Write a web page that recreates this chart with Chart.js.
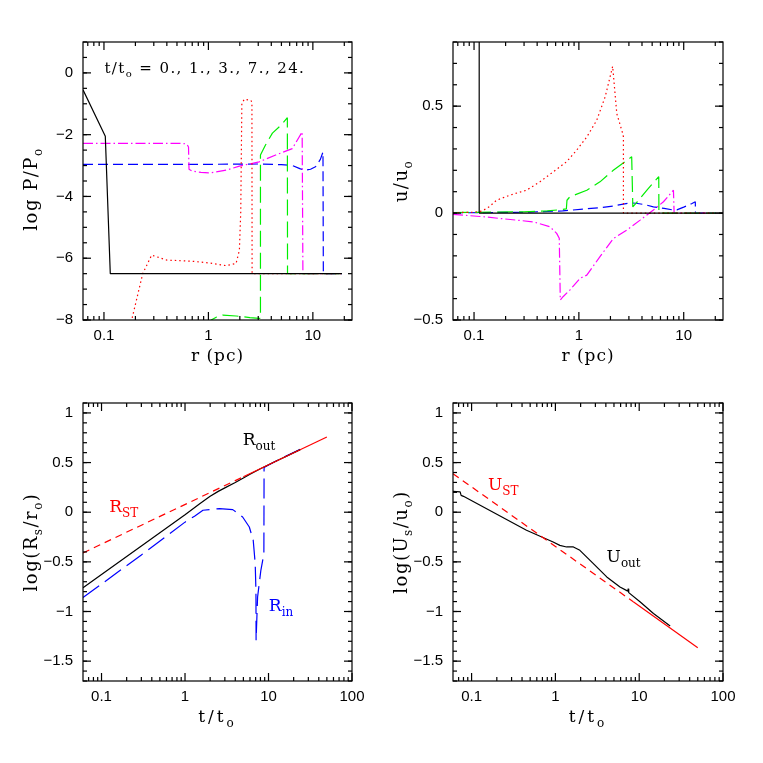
<!DOCTYPE html>
<html>
<head>
<meta charset="utf-8">
<title>Remnant profiles</title>
<script src="https://cdn.jsdelivr.net/npm/chart.js@4.4.1/dist/chart.umd.min.js"></script>
<style>
  html, body { margin: 0; padding: 0; background: #fff; }
  body { position: relative; width: 763px; height: 763px; overflow: hidden; }
  canvas { position: absolute; }
</style>
</head>
<body>
<canvas id="pres"></canvas>
<canvas id="vel"></canvas>
<canvas id="radius"></canvas>
<canvas id="speed"></canvas>
<script>
// top left: log P/Po against r (pc), t/to = 0, 1, 3, 7, 24
const presR0  = [0.063, 0.103, 0.115, 19];
const presP0  = [-0.55, -2.05, -6.5, -6.5];
const presR1  = [0.170, 0.235, 0.286, 0.40, 0.71, 1.0, 1.48, 1.84, 1.98, 2.04, 2.09, 2.21, 2.55, 2.61, 2.62, 19];
const presP1  = [-8.5, -6.5, -5.9, -6.06, -6.1, -6.15, -6.24, -6.17, -5.74, -4.5, -0.99, -0.85, -0.89, -0.95, -6.5, -6.5];
const presR3  = [1.0, 1.064, 1.2, 1.374, 1.84, 2.5, 3.06, 3.15, 3.15, 3.5, 4.1, 5.0, 5.7, 5.72, 19];
const presP3  = [-8.3, -8.0, -7.9, -7.84, -7.87, -7.92, -7.95, -7.95, -2.66, -2.35, -1.95, -1.68, -1.45, -6.5, -6.5];
const presR7  = [0.063, 0.55, 0.62, 0.645, 0.652, 0.7, 0.85, 1.03, 1.48, 1.98, 3.06, 4.41, 6.36, 7.9, 8.03, 19];
const presP7  = [-2.28, -2.28, -2.30, -2.4, -3.12, -3.18, -3.22, -3.24, -3.15, -3.02, -2.88, -2.66, -2.45, -1.91, -6.5, -6.5];
const presR24 = [0.063, 1, 3, 5, 6.4, 7.5, 8.5, 9.5, 10.6, 11.8, 12.5, 12.6, 19];
const presP24 = [-2.96, -2.96, -2.95, -2.97, -3.0, -3.1, -3.15, -3.12, -3.04, -2.8, -2.56, -6.5, -6.5];

// top right: u/uo against r (pc)
const velR0  = [0.112, 0.112, 23.7];
const velU0  = [1.5, 0, 0];
const velR1  = [0.063, 0.1, 0.12, 0.14, 0.164, 0.22, 0.317, 0.425, 0.57, 0.764, 0.952, 1.19, 1.48, 1.78, 2.10, 2.30, 2.62, 2.66, 2.66, 20];
const velU1  = [0.002, 0.004, 0.01, 0.03, 0.06, 0.084, 0.107, 0.146, 0.193, 0.24, 0.294, 0.356, 0.434, 0.543, 0.686, 0.465, 0.372, 0.356, 0, 0];
const velR3  = [0.063, 0.3, 0.5, 0.7, 0.76, 0.77, 0.82, 1.19, 1.59, 2.13, 3.19, 3.27, 3.5, 4.5, 5.78, 5.8, 20];
const velU3  = [0.002, 0.006, 0.01, 0.017, 0.02, 0.06, 0.076, 0.107, 0.146, 0.2, 0.263, 0.029, 0.045, 0.11, 0.17, 0, 0];
const velR7  = [0.063, 0.122, 0.254, 0.367, 0.53, 0.614, 0.65, 0.665, 0.71, 0.82, 1.03, 1.19, 1.59, 2.13, 2.86, 3.84, 5.14, 6.41, 7.98, 8.1, 20];
const velU7  = [-0.006, -0.017, -0.033, -0.041, -0.064, -0.095, -0.118, -0.407, -0.39, -0.36, -0.305, -0.29, -0.204, -0.119, -0.08, -0.033, 0.014, 0.053, 0.107, 0, 0];
const velR24 = [0.063, 0.3, 0.7, 1.19, 1.6, 2.13, 3.08, 3.5, 4.2, 5.14, 6.5, 7.98, 8.6, 10, 12, 12.9, 12.95, 20];
const velU24 = [0.001, 0.004, 0.01, 0.02, 0.025, 0.033, 0.048, 0.046, 0.04, 0.029, 0.022, 0.014, 0.015, 0.028, 0.045, 0.053, 0, 0];

// bottom left: log(Rs/ro) against t/to
const rstT    = [0.06, 5, 50];
const rstLog  = [-0.41, 0.357, 0.757];
const routT   = [0.06, 0.3, 1, 1.5, 2, 2.5, 3, 4, 5, 6, 8, 10, 24];
const routLog = [-0.76, -0.34, -0.025, 0.085, 0.16, 0.21, 0.245, 0.3, 0.345, 0.382, 0.438, 0.478, 0.63];
const rinT    = [0.06, 0.3, 1, 1.3, 1.64, 2.59, 3.73, 4.9, 5.89, 6.56, 6.93, 7.07, 7.1, 7.4, 8.1, 8.8, 8.85, 12, 24];
const rinLog  = [-0.86, -0.43, -0.10, -0.04, 0.02, 0.036, 0.026, -0.048, -0.149, -0.283, -0.518, -0.787, -1.29, -0.854, -0.585, -0.42, 0.45, 0.51, 0.635];

// bottom right: log(Us/uo) against t/to
const ustT    = [0.06, 8.5, 50];
const ustLog  = [0.388, -0.902, -1.364];
const uoutT   = [0.06, 0.073, 0.075, 0.08, 0.452, 0.94, 1.13, 1.36, 1.64, 1.96, 2.84, 4.1, 5.9, 7.3, 7.4, 7.5, 10.3, 14.8, 23.4];
const uoutLog = [0.21, 0.205, 0.17, 0.16, -0.182, -0.30, -0.334, -0.35, -0.35, -0.384, -0.518, -0.652, -0.753, -0.795, -0.77, -0.81, -0.904, -1.02, -1.146];

// tick labels
const rLabels   = [0.1, 1, 10];
const tLabels   = [0.1, 1, 10, 100];
const presTicks = [0, -2, -4, -6, -8];
const velTicks  = [0.5, 0, -0.5];
const logTicks  = [1, 0.5, 0, -0.5, -1, -1.5];

const RED = '#ff0000', GREEN = '#00ee00', BLUE = '#0000ff', MAGENTA = '#ff00ff', BLACK = '#000000';

Chart.defaults.font.family = '"Liberation Sans", Arial, sans-serif';
Chart.defaults.font.size = 15;
Chart.defaults.color = '#000';

function line(xs, ys, color, dash) {
    return {
        data: xs.map((x, i) => ({ x: x, y: ys[i] })),
        borderColor: color,
        borderWidth: 1.2,
        borderDash: dash || [],
        borderJoinStyle: 'bevel',
        pointRadius: 0,
        fill: false,
        tension: 0
    };
}

// minor ticks for log axes: 2..9 of every decade inside the range
function logMinor(lo, hi) {
    const out = [];
    for (let e = -2; e <= 2; e++) {
        for (let m = 2; m <= 9; m++) {
            const v = m * Math.pow(10, e);
            if (v > lo && v < hi) out.push(v);
        }
    }
    return out;
}
function steps(lo, hi, d) {
    const out = [];
    for (let v = lo; v <= hi + 1e-9; v += d) out.push(Math.round(v * 1000) / 1000);
    return out;
}

function rich(ctx, parts, x, y, size, sp, align) {
    const fontFor = sub => (sub ? Math.round(size * 0.68) : size) + 'px "DejaVu Serif", serif';
    ctx.letterSpacing = sp + 'px';
    let total = 0;
    const widths = parts.map(([t, sub]) => {
        ctx.font = fontFor(sub);
        const w = ctx.measureText(t).width;
        total += w;
        return w;
    });
    let cx = align === 'center' ? x - total / 2 : x;
    ctx.textAlign = 'left';
    ctx.textBaseline = 'alphabetic';
    parts.forEach(([t, sub], i) => {
        ctx.font = fontFor(sub);
        ctx.fillText(t, cx, y + (sub ? size * 0.3 : 0));
        cx += widths[i];
    });
    ctx.letterSpacing = '0px';
}

// frame with inward ticks on all four sides, axis titles, text notes
function decor(p) {
    return {
        id: 'decor_' + p.id,
        afterDraw(chart) {
            const ctx = chart.ctx, a = chart.chartArea;
            const sx = chart.scales.x, sy = chart.scales.y;
            const lw = 1.2;
            ctx.save();
            ctx.setLineDash([]);
            ctx.fillStyle = '#000';
            const xt = (v, len) => {
                const px = sx.getPixelForValue(v);
                ctx.fillRect(px - lw / 2, a.bottom - len, lw, len);
                ctx.fillRect(px - lw / 2, a.top, lw, len);
            };
            const yt = (v, len) => {
                const py = sy.getPixelForValue(v);
                ctx.fillRect(a.left, py - lw / 2, len, lw);
                ctx.fillRect(a.right - len, py - lw / 2, len, lw);
            };
            p.xMinor.forEach(v => xt(v, 4));
            p.xMajor.forEach(v => xt(v, 8));
            p.yMinor.forEach(v => yt(v, 4));
            p.yMajor.forEach(v => yt(v, 8));
            ctx.strokeStyle = '#000';
            ctx.lineWidth = lw;
            ctx.strokeRect(a.left, a.top, a.right - a.left, a.bottom - a.top);

            rich(ctx, p.xTitle, (a.left + a.right) / 2, a.bottom + 41, 17, p.xTitleSp, 'center');
            ctx.save();
            ctx.translate(a.left - 46, (a.top + a.bottom) / 2 + (p.yTitleShift || 0));
            ctx.rotate(-Math.PI / 2);
            rich(ctx, p.yTitle, 0, 0, 18, 1.5, 'center');
            ctx.restore();

            (p.notes || []).forEach(n => {
                ctx.fillStyle = n.color;
                rich(ctx, n.parts, sx.getPixelForValue(n.x), sy.getPixelForValue(n.y), n.size, n.sp, 'left');
            });
            ctx.restore();
        }
    };
}

const PAD_L = 80, PAD_T = 10, PAD_R = 22, PAD_B = 62;
const fmtY = v => (v < 0 ? '\u2212' : '') + Math.abs(v);

function makePanel(p) {
    const cv = document.getElementById(p.id);
    const [fl, ft, fw, fh] = p.frame;
    const W = fw + PAD_L + PAD_R, H = fh + PAD_T + PAD_B;
    cv.width = W; cv.height = H;
    cv.style.left = (fl - PAD_L) + 'px';
    cv.style.top = (ft - PAD_T) + 'px';
    cv.style.width = W + 'px';
    cv.style.height = H + 'px';

    new Chart(cv, {
        type: 'line',
        data: { datasets: p.datasets },
        options: {
            responsive: false,
            animation: false,
            devicePixelRatio: 1,
            layout: { padding: { left: 0, top: PAD_T, right: PAD_R, bottom: 0 } },
            plugins: { legend: { display: false }, tooltip: { enabled: false } },
            scales: {
                x: {
                    type: 'logarithmic',
                    min: p.xMin, max: p.xMax,
                    grid: { display: false, drawTicks: false },
                    border: { display: false },
                    afterBuildTicks: s => { s.ticks = p.xLabels.map(v => ({ value: v })); },
                    afterFit: s => { s.height = PAD_B; s.paddingLeft = 0; s.paddingRight = 0; },
                    ticks: { padding: 7, maxRotation: 0, autoSkip: false, callback: v => String(v) }
                },
                y: {
                    type: 'linear',
                    min: p.yMin, max: p.yMax,
                    grid: { display: false, drawTicks: false },
                    border: { display: false },
                    afterBuildTicks: s => { s.ticks = p.yLabels.map(v => ({ value: v })); },
                    afterFit: s => { s.width = PAD_L; s.paddingTop = 0; s.paddingBottom = 0; },
                    ticks: { padding: 10, autoSkip: false, callback: v => fmtY(v) }
                }
            }
        },
        plugins: [decor(p)]
    });
}

const rMinor = logMinor(0.063, 23.7);
const tMinor = logMinor(0.06, 100);

makePanel({
    id: 'pres', frame: [83, 42, 269, 278],
    xMin: 0.063, xMax: 23.7, yMin: -8, yMax: 1,
    xLabels: rLabels, yLabels: presTicks,
    xMajor: rLabels, xMinor: rMinor, yMajor: presTicks, yMinor: steps(-8, 1, 0.5),
    xTitle: [['r (pc)', 0]], xTitleSp: 1,
    yTitle: [['log P/P', 0], ['o', 1]], yTitleShift: 8,
    notes: [{ parts: [['t/t', 0], ['o', 1], [' = 0., 1., 3., 7., 24.', 0]], x: 0.101, y: 0, size: 15, sp: 1.4, color: BLACK }],
    datasets: [
        line(presR0, presP0, BLACK),
        line(presR1, presP1, RED, [1.5, 3]),
        line(presR3, presP3, GREEN, [16, 6]),
        line(presR7, presP7, MAGENTA, [10, 3, 1.5, 3]),
        line(presR24, presP24, BLUE, [10, 5])
    ]
});

makePanel({
    id: 'vel', frame: [453, 42, 270, 278],
    xMin: 0.063, xMax: 23.7, yMin: -0.5, yMax: 0.8,
    xLabels: rLabels, yLabels: velTicks,
    xMajor: rLabels, xMinor: rMinor, yMajor: velTicks, yMinor: steps(-0.5, 0.8, 0.1),
    xTitle: [['r (pc)', 0]], xTitleSp: 1,
    yTitle: [['u/u', 0], ['o', 1]],
    datasets: [
        line(velR0, velU0, BLACK),
        line(velR1, velU1, RED, [1.5, 3]),
        line(velR3, velU3, GREEN, [16, 6]),
        line(velR7, velU7, MAGENTA, [10, 3, 1.5, 3]),
        line(velR24, velU24, BLUE, [10, 5])
    ]
});

makePanel({
    id: 'radius', frame: [83, 403, 269, 278],
    xMin: 0.06, xMax: 100, yMin: -1.7, yMax: 1.1,
    xLabels: tLabels, yLabels: logTicks,
    xMajor: tLabels, xMinor: tMinor, yMajor: logTicks, yMinor: steps(-1.7, 1.1, 0.1),
    xTitle: [['t/t', 0], ['o', 1]], xTitleSp: 3,
    yTitle: [['log(R', 0], ['s', 1], ['/r', 0], ['o', 1], [')', 0]],
    notes: [
        { parts: [['R', 0], ['out', 1]], x: 4.9, y: 0.68, size: 17, sp: 0, color: BLACK },
        { parts: [['R', 0], ['ST', 1]], x: 0.124, y: 0.007, size: 17, sp: 0, color: RED },
        { parts: [['R', 0], ['in', 1]], x: 10.1, y: -0.99, size: 17, sp: 0, color: BLUE }
    ],
    datasets: [
        line(rstT.slice(0, 2), rstLog.slice(0, 2), RED, [7, 5]),
        line(rstT.slice(1), rstLog.slice(1), RED),
        line(routT, routLog, BLACK),
        line(rinT, rinLog, BLUE, [20, 7])
    ]
});

makePanel({
    id: 'speed', frame: [453, 403, 270, 278],
    xMin: 0.06, xMax: 100, yMin: -1.7, yMax: 1.1,
    xLabels: tLabels, yLabels: logTicks,
    xMajor: tLabels, xMinor: tMinor, yMajor: logTicks, yMinor: steps(-1.7, 1.1, 0.1),
    xTitle: [['t/t', 0], ['o', 1]], xTitleSp: 3,
    yTitle: [['log(U', 0], ['s', 1], ['/u', 0], ['o', 1], [')', 0]],
    notes: [
        { parts: [['U', 0], ['ST', 1]], x: 0.157, y: 0.227, size: 17, sp: 0, color: RED },
        { parts: [['U', 0], ['out', 1]], x: 4.08, y: -0.503, size: 17, sp: 0, color: BLACK }
    ],
    datasets: [
        line(ustT.slice(0, 2), ustLog.slice(0, 2), RED, [7, 5]),
        line(ustT.slice(1), ustLog.slice(1), RED),
        line(uoutT, uoutLog, BLACK)
    ]
});
</script>
</body>
</html>
